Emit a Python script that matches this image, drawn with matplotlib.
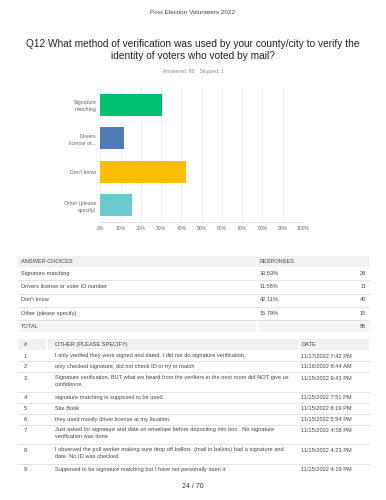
import matplotlib.pyplot as plt

plt.rcParams['font.family'] = ['Liberation Sans', 'DejaVu Sans']

# chart data
categories = ['Signature\nmatching', 'Drivers\nlicense or...', "Don't know", 'Other (please\nspecify)']
percents = [30.53, 11.58, 42.11, 15.79]
bar_colors = ['#00bf6f', '#507cb6', '#f9be00', '#6bc8cd']
tick_labels = ['0%', '10%', '20%', '30%', '40%', '50%', '60%', '70%', '80%', '90%', '100%']

# answer table
choices = ['Signature matching', 'Drivers license or voter ID number', "Don't know", 'Other (please specify)']
pct_text = ['30.53%', '11.58%', '42.11%', '15.79%']
counts = [29, 11, 40, 15]
total = 95

# comments table
comments = [
    'I only verified they were signed and dated. I did not do signature verification.',
    'only checked signature, did not check ID or try to match',
    'Signature verification, BUT what we heard from the verifiers in the next room did NOT give us\nconfidence.',
    'signature matching is supposed to be used.',
    'Site Book',
    'they used mostly driver license at my location.',
    'Just asked for signature and date on envelope before depositing into box.  No signature\nverification was done',
    'I observed the poll worker making sure drop off ballots  (mail in ballots) had a signature and\ndate. No ID was checked.',
    'Supposed to be signature matching but I have not personally seen it.',
]
dates = ['11/17/2022 7:42 PM', '11/16/2022 8:44 AM', '11/15/2022 9:43 PM', '11/15/2022 7:51 PM',
         '11/15/2022 6:19 PM', '11/15/2022 5:54 PM', '11/15/2022 4:58 PM', '11/15/2022 4:23 PM',
         '11/15/2022 4:19 PM']

W, H = 386, 500
fig = plt.figure(figsize=(W / 100, H / 100), dpi=100)

# page overlay in pixel coordinates
pg = fig.add_axes([0, 0, 1, 1])
pg.set_xlim(0, W)
pg.set_ylim(H, 0)
pg.axis('off')

txt = '#444444'
grey_bg = '#f0f0f0'
line_c = '#dddddd'

pg.text(W / 2, 13, 'Post Election Volunteers 2022', ha='center', va='center', fontsize=4.6, color='#444444')
pg.text(W / 2, 50, 'Q12 What method of verification was used by your county/city to verify the\nidentity of voters who voted by mail?',
        ha='center', va='center', fontsize=7.3, color='#222222', linespacing=1.35)
pg.text(W / 2, 71.5, 'Answered: 95    Skipped: 1', ha='center', va='center', fontsize=3.6, color='#888888')

# bar chart
ax = fig.add_axes([100.5 / W, 1 - 222 / H, (303 - 100.5) / W, (222 - 88) / H])
ypos = range(len(categories))
ax.barh(ypos, percents, color=bar_colors, height=0.65, zorder=3)
ax.set_xlim(0, 100)
ax.set_ylim(len(categories) - 0.5, -0.5)
ax.set_xticks(range(0, 101, 10))
ax.set_xticklabels(tick_labels, fontsize=3.6, color='#666666')
ax.set_yticks(list(ypos))
ax.set_yticklabels(categories, fontsize=3.8, color='#666666', linespacing=1.5)
ax.tick_params(length=0, pad=3)
ax.grid(axis='x', color='#eeeeee', linewidth=0.6, zorder=0)
for s in ['top', 'right', 'left']:
    ax.spines[s].set_visible(False)
ax.spines['bottom'].set_color('#dddddd')
ax.spines['bottom'].set_linewidth(0.6)

fs = 4.05

# answer choices table
x0, x1, xr = 18, 369, 257
pg.fill_between([x0, xr - 1], 256, 267, color=grey_bg, lw=0)
pg.fill_between([xr + 1, x1], 256, 267, color=grey_bg, lw=0)
pg.text(21, 261.5, 'ANSWER CHOICES', va='center', fontsize=fs, color=txt)
pg.text(260, 261.5, 'RESPONSES', va='center', fontsize=fs, color=txt)
row_h = 13.3
y = 267
for c, p, n in zip(choices, pct_text, counts):
    pg.text(21, y + 6.3, c, va='center', fontsize=fs, color=txt)
    pg.text(260, y + 6.3, p, va='center', fontsize=fs, color=txt)
    pg.text(366, y + 6.3, str(n), va='center', ha='right', fontsize=fs, color=txt)
    y += row_h
    pg.plot([x0, x1], [y, y], color=line_c, lw=0.6)
pg.fill_between([x0, xr - 1], y, y + 12, color='#f5f5f5', lw=0)
pg.fill_between([xr + 1, x1], y, y + 12, color='#f5f5f5', lw=0)
pg.text(21, y + 6, 'TOTAL', va='center', fontsize=fs, color=txt)
pg.text(366, y + 6, str(total), va='center', ha='right', fontsize=fs, color=txt)

# other (please specify) table
xa, xb = 46, 298
pg.fill_between([x0, xa], 339, 350, color=grey_bg, lw=0)
pg.fill_between([xa + 2, xb], 339, 350, color=grey_bg, lw=0)
pg.fill_between([xb + 2, x1], 339, 350, color=grey_bg, lw=0)
pg.text(24, 344.5, '#', va='center', fontsize=fs, color=txt)
pg.text(55, 344.5, 'OTHER (PLEASE SPECIFY)', va='center', fontsize=fs, color=txt)
pg.text(301, 344.5, 'DATE', va='center', fontsize=fs, color=txt)
y = 350
for i, (c, d) in enumerate(zip(comments, dates)):
    nlines = c.count('\n') + 1
    h = 11 if nlines == 1 else 19.5
    pg.text(24, y + 6, str(i + 1), va='center', fontsize=fs, color=txt)
    pg.text(55, y + 3, c, va='top', fontsize=fs, color=txt, linespacing=1.4)
    pg.text(301, y + 6, d, va='center', fontsize=fs, color=txt)
    y += h
    if i < len(comments) - 1:
        pg.plot([x0, x1], [y, y], color=line_c, lw=0.6)

pg.text(W / 2, 487, '24 / 70', ha='center', va='center', fontsize=5, color='#333333')

fig.savefig('out.png', dpi=100, facecolor='white')
